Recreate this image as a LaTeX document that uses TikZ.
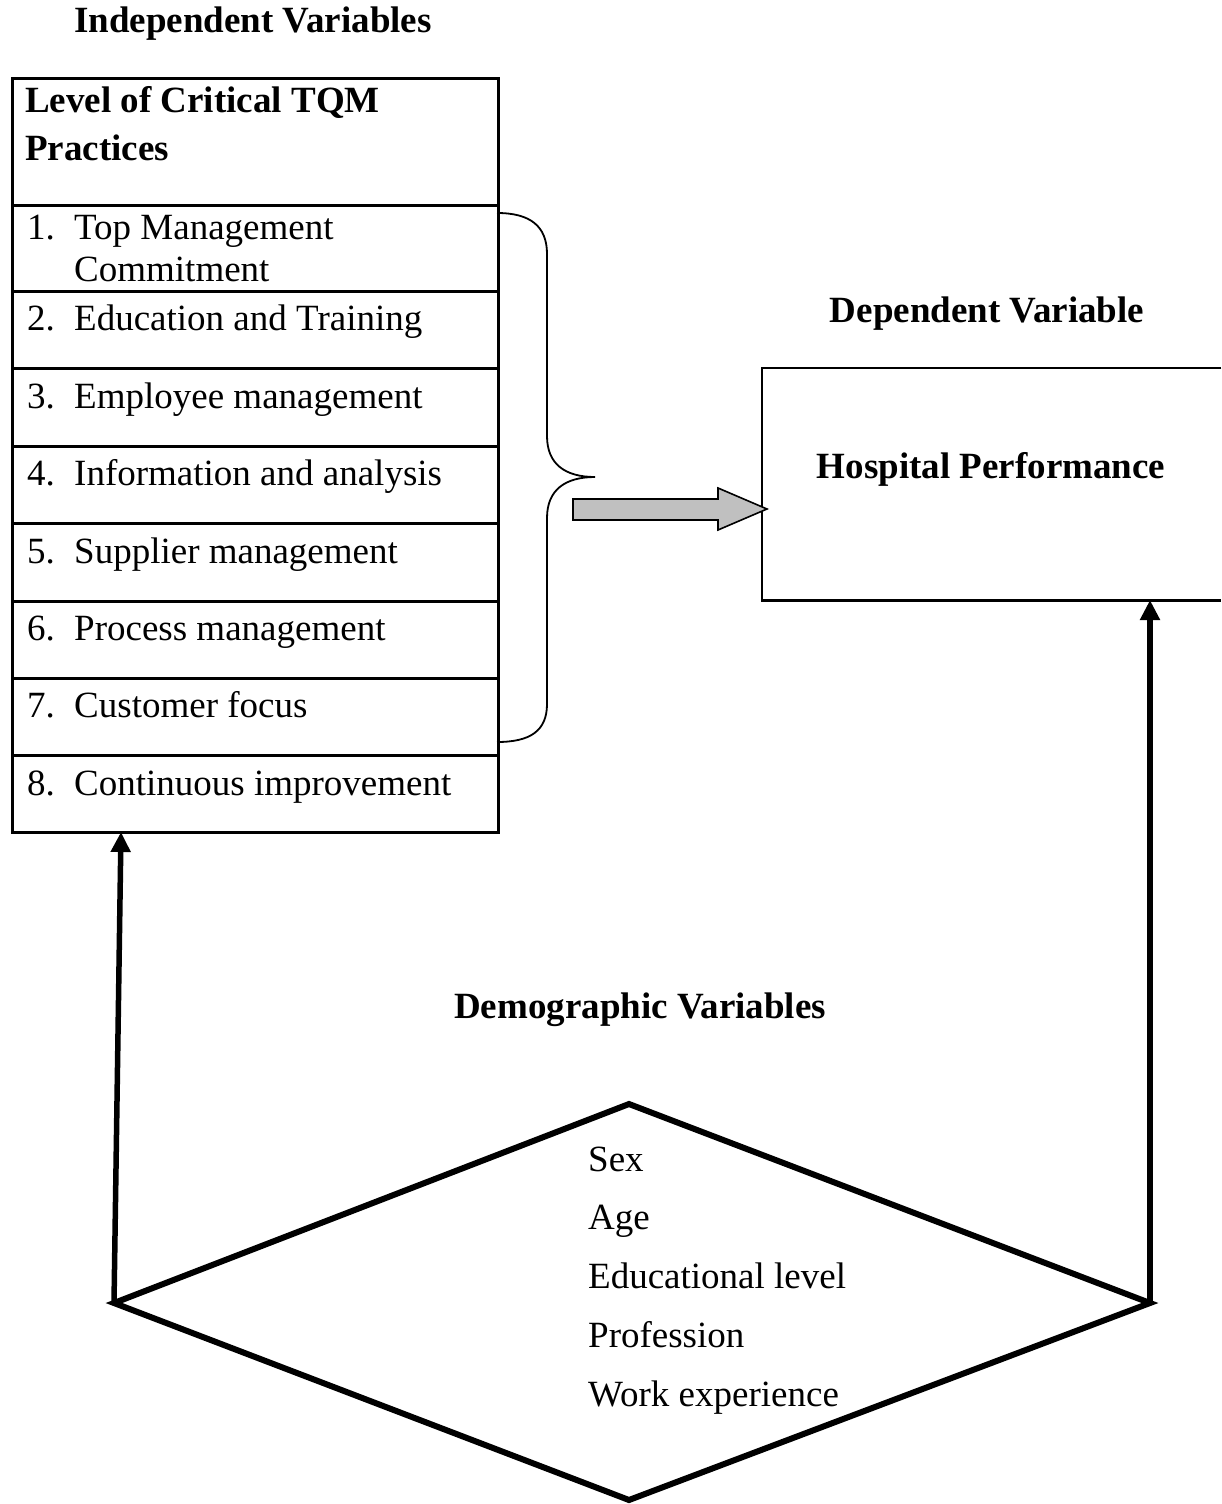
\documentclass[tikz,border=0pt]{standalone}
\usepackage{fontspec}
\setmainfont{Liberation Serif}
\usetikzlibrary{arrows.meta}
\definecolor{arrowgray}{RGB}{192,192,192}
\tikzset{
  rowbox/.style={draw, line width=2.8pt, minimum width=486pt, inner sep=0pt, anchor=north west},
  txt/.style={inner sep=0pt, anchor=base west, font=\fontsize{37}{44}\selectfont},
  btxt/.style={inner sep=0pt, anchor=base, font=\fontsize{37}{44}\selectfont\bfseries},
  bltxt/.style={inner sep=0pt, anchor=base west, font=\fontsize{37}{44}\selectfont\bfseries},
  thickarrow/.style={line width=5.5pt, -{Triangle[width=19pt,length=20pt]}},
  bracestyle/.style={line width=1.8pt},
  blockarrow/.style={draw, line width=1.6pt, fill=arrowgray, line join=miter},
  diamondline/.style={line width=6pt, line join=miter}
}
\newcommand{\numlab}[1]{\makebox[47pt][l]{#1}}
\begin{document}
\begin{tikzpicture}[x=1pt,y=-1pt]
\useasboundingbox (0,0) rectangle (1221,1504);

% titles
\node[btxt] (indep) at (253,33) {Independent Variables};
\node[btxt] (dep) at (987,322) {Dependent Variable};
\node[btxt] (demo) at (640,1018) {Demographic Variables};

% left box
\node[rowbox, minimum height=127pt] (hdr) at (11,77) {};
\node[rowbox, minimum height=86pt] (r1) at (11,204) {};
\node[rowbox, minimum height=77pt] (r2) at (11,290) {};
\node[rowbox, minimum height=78pt] (r3) at (11,367) {};
\node[rowbox, minimum height=77pt] (r4) at (11,445) {};
\node[rowbox, minimum height=78pt] (r5) at (11,522) {};
\node[rowbox, minimum height=77pt] (r6) at (11,600) {};
\node[rowbox, minimum height=77pt] (r7) at (11,677) {};
\node[rowbox, minimum height=77pt] (r8) at (11,754) {};

\node[bltxt] (h1) at (25,112) {Level of Critical TQM};
\node[bltxt] (h2) at (25,160) {Practices};

\node[txt] (t1) at (27,239) {\numlab{1.}Top Management};
\node[txt] (t1b) at (74,281) {Commitment};
\node[txt] (t2) at (27,330) {\numlab{2.}Education and Training};
\node[txt] (t3) at (27,408) {\numlab{3.}Employee management};
\node[txt] (t4) at (27,485) {\numlab{4.}Information and analysis};
\node[txt] (t5) at (27,563) {\numlab{5.}Supplier management};
\node[txt] (t6) at (27,640) {\numlab{6.}Process management};
\node[txt] (t7) at (27,717) {\numlab{7.}Customer focus};
\node[txt] (t8) at (27,795) {\numlab{8.}Continuous improvement};

% brace
\draw[bracestyle] (497,213) .. controls (530,213) and (547,226) .. (547,254)
  -- (547,436) .. controls (547,464) and (565,477) .. (595,477)
  .. controls (565,477) and (547,490) .. (547,518)
  -- (547,704) .. controls (547,731) and (530,742) .. (497,742);

% right box
\node[inner sep=0pt, minimum width=459pt, minimum height=232pt, anchor=north west] (hpbox) at (762,368) {};
\draw[line width=2.8pt] (hpbox.north east) -- (hpbox.north west) -- (hpbox.south west) -- (hpbox.south east);
\node[btxt] (hp) at (991,478) {Hospital Performance};

% block arrow
\coordinate (batip) at (767,509);
\draw[blockarrow] (573,499) -- (718,499) -- (718,488) -- (batip) -- (718,530) -- (718,520) -- (573,520) -- cycle;

% diamond
\coordinate (dt) at (629,1104);
\coordinate (dr) at (1150,1303);
\coordinate (db) at (629,1500);
\coordinate (dl) at (114,1303);
\draw[diamondline] (dt) -- (dr) -- (db) -- (dl) -- cycle;

\node[txt] (d1) at (588,1171) {Sex};
\node[txt] (d2) at (588,1229) {Age};
\node[txt] (d3) at (588,1288) {Educational level};
\node[txt] (d4) at (588,1347) {Profession};
\node[txt] (d5) at (588,1406) {Work experience};

% thick arrows
\coordinate (lefttip) at (121,832);
\coordinate (righttip) at (1150,600);
\draw[thickarrow] (dl) -- (lefttip);
\draw[thickarrow] (dr) -- (righttip);
\end{tikzpicture}
\end{document}
